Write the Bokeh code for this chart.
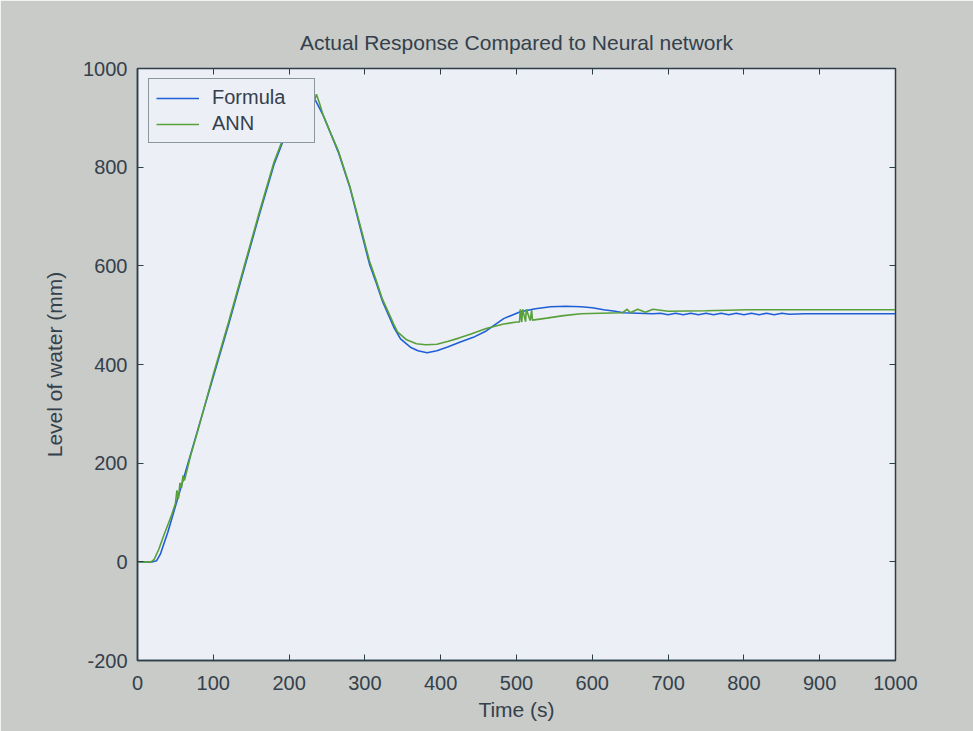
from bokeh.plotting import figure
from bokeh.models import LinearAxis, Range1d, FixedTicker, Legend, LegendItem
from bokeh.embed import file_html
from bokeh.resources import INLINE

# ---- data ----
formula_t = [0, 20, 25, 30, 40, 60, 80, 100, 120, 140, 160, 180, 200, 215, 225,
             235, 245, 255, 265, 280, 295, 306, 315, 323, 338, 347, 360, 370, 382,
             395, 410, 425, 443, 460, 483, 505, 525, 545, 565, 585, 600, 615, 630,
             641, 660, 680, 690, 700, 710, 720, 730, 740, 750, 760, 770, 780, 790,
             800, 810, 820, 830, 840, 850, 860, 880, 900, 1000]
formula_v = [0, 0, 2, 15, 60, 165, 270, 375, 480, 590, 700, 805, 885, 930, 945,
             935, 905, 868, 830, 760, 670, 604, 565, 529, 476, 452, 435, 428, 424,
             428, 436, 445, 455, 468, 493, 507, 513, 517, 518, 517, 515, 511, 508,
             505, 504, 503, 504, 501, 504, 501, 504, 501, 504, 501, 504, 501, 504,
             501, 504, 501, 504, 501, 504, 502, 503, 503, 503]

ann_t = [0, 18, 22, 28, 35, 45, 50, 52, 54, 56, 58, 60, 62, 70, 80, 100, 120,
         140, 160, 180, 200, 215, 228, 232, 236, 240, 245, 255, 265, 280, 295,
         306, 315, 323, 338, 343, 355, 368, 380, 395, 410, 425, 440, 460, 483,
         500, 504, 505, 507, 508, 512, 513, 518, 520, 521, 540, 562, 585, 610,
         640, 646, 650, 660, 670, 680, 700, 750, 805, 1000]
ann_v = [0, 0, 5, 25, 55, 95, 118, 145, 128, 160, 150, 175, 165, 215, 268, 380,
         485, 595, 705, 810, 890, 930, 945, 925, 948, 930, 905, 868, 833, 762,
         675, 610, 570, 533, 482, 466, 450, 442, 440, 441, 447, 454, 462, 473,
         482, 486, 486, 512, 486, 512, 487, 512, 489, 510, 490, 494, 499, 503,
         504, 505, 512, 505, 512, 506, 512, 508, 509, 511, 511]

x_ticks = [0, 100, 200, 300, 400, 500, 600, 700, 800, 900, 1000]
y_ticks = [-200, 0, 200, 400, 600, 800, 1000]
y_tick_labels = {-200: "-200"}

TEXT = "#34404c"
FONT = "Liberation Sans"
GREY = "#c8cbc7"
PLOT_BG = "#eceff5"
AXIS = "#2c3e48"

p = figure(width=973, height=731, output_backend="svg", toolbar_location=None,
           x_range=Range1d(0, 1000), y_range=Range1d(-200, 1000),
           title="Actual Response Compared to Neural network",
           min_border_left=137, min_border_right=78, min_border_top=68,
           min_border_bottom=71)
p.background_fill_color = PLOT_BG
p.border_fill_color = GREY
p.outline_line_color = AXIS
p.outline_line_width = 1.5
p.grid.visible = False

p.title.text_font = FONT
p.title.text_font_size = "21px"
p.title.text_font_style = "normal"
p.title.text_color = TEXT
p.title.align = "center"
p.title.standoff = 29

for ax in (p.xaxis[0], p.yaxis[0]):
    ax.major_tick_in = 6
    ax.major_tick_out = 0
    ax.minor_tick_in = 0
    ax.minor_tick_out = 0
    ax.axis_line_color = AXIS
    ax.axis_line_width = 1.5
    ax.major_tick_line_color = AXIS
    ax.major_label_text_font = FONT
    ax.major_label_text_font_size = "20px"
    ax.major_label_text_color = TEXT
    ax.axis_label_text_font = FONT
    ax.axis_label_text_font_size = "21px"
    ax.axis_label_text_font_style = "normal"
    ax.axis_label_text_color = TEXT

p.xaxis[0].ticker = FixedTicker(ticks=x_ticks)
p.yaxis[0].ticker = FixedTicker(ticks=y_ticks)
p.yaxis[0].major_label_overrides = y_tick_labels
p.xaxis[0].axis_label = "Time (s)"
p.yaxis[0].axis_label = "Level of water (mm)"
p.xaxis[0].major_label_standoff = 15
p.yaxis[0].major_label_standoff = 10
p.xaxis[0].axis_label_standoff = 5
p.yaxis[0].axis_label_standoff = 14

top = LinearAxis(ticker=FixedTicker(ticks=x_ticks),
                 major_label_overrides={t: "" for t in x_ticks})
right = LinearAxis(ticker=FixedTicker(ticks=y_ticks),
                   major_label_overrides={t: "" for t in y_ticks})
for ax in (top, right):
    ax.major_tick_in = 6
    ax.major_tick_out = 0
    ax.minor_tick_in = 0
    ax.minor_tick_out = 0
    ax.axis_line_color = AXIS
    ax.major_tick_line_color = AXIS
    ax.major_label_standoff = 0
p.add_layout(top, "above")
p.add_layout(right, "right")

r1 = p.line(formula_t, formula_v, line_color="#1f5fd6", line_width=1.6)
r2 = p.line(ann_t, ann_v, line_color="#58a03a", line_width=1.6)

legend = Legend(items=[LegendItem(label="Formula", renderers=[r1]),
                       LegendItem(label="ANN", renderers=[r2])],
                location=(11, 517))
legend.margin = 0
legend.padding = 7
legend.spacing = 3
legend.glyph_width = 43
legend.glyph_height = 22
legend.label_standoff = 13
legend.label_width = 95
legend.label_text_font = FONT
legend.label_text_font_size = "20px"
legend.label_text_color = TEXT
legend.background_fill_color = PLOT_BG
legend.background_fill_alpha = 1
legend.border_line_color = AXIS
legend.border_line_width = 1.5
p.add_layout(legend, "center")

open("out.html", "w").write(file_html(p, INLINE))
